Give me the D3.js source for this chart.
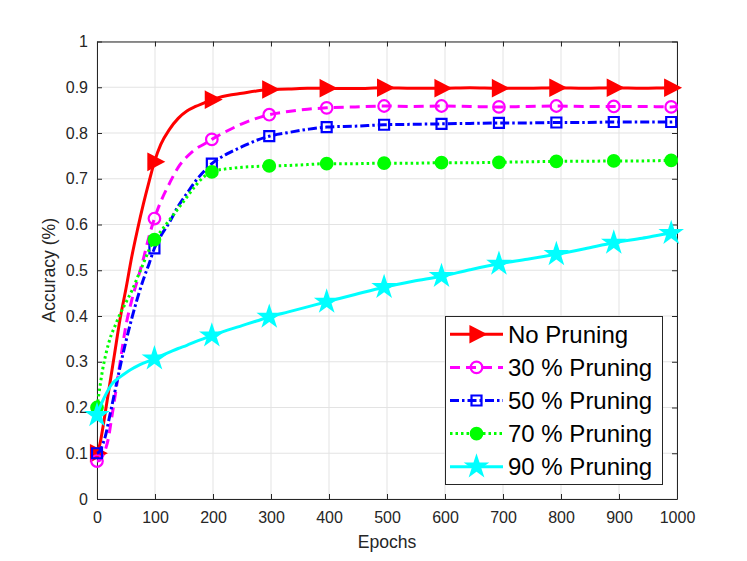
<!DOCTYPE html>
<html>
<head>
<meta charset="utf-8">
<script src="https://cdn.jsdelivr.net/npm/d3@7"></script>
<style>
  body { margin: 0; background: #fff; }
  svg { font-family: "Liberation Sans", Arial, Helvetica, sans-serif; }
</style>
</head>
<body>
<div id="chart"></div>
<script>
'use strict';

const epochs = [0, 5, 10, 15, 20, 25, 30, 40, 50, 60, 70, 80, 90, 99, 110, 125, 140, 155, 170, 185,
    198, 225, 250, 275, 297, 330, 363, 396, 445, 495, 545, 594, 643, 693, 742, 792, 841, 891, 940, 990, 1000];

const noPruning = [0.100, 0.120, 0.155, 0.195, 0.235, 0.275, 0.315, 0.395, 0.460, 0.530, 0.590, 0.645, 0.695, 0.737,
    0.775, 0.808, 0.832, 0.848, 0.858, 0.866, 0.873, 0.882, 0.887, 0.892, 0.895, 0.896, 0.898, 0.898, 0.897,
    0.899, 0.898, 0.898, 0.899, 0.898, 0.898, 0.899, 0.898, 0.899, 0.898, 0.899, 0.899];

const pruning30 = [0.083, 0.085, 0.095, 0.110, 0.135, 0.175, 0.215, 0.300, 0.380, 0.435, 0.480, 0.525, 0.575, 0.613,
    0.650, 0.690, 0.725, 0.748, 0.765, 0.776, 0.786, 0.805, 0.820, 0.832, 0.840, 0.847, 0.852, 0.855, 0.857,
    0.859, 0.858, 0.859, 0.858, 0.857, 0.858, 0.859, 0.858, 0.858, 0.858, 0.857, 0.858];

const pruning50 = [0.100, 0.105, 0.120, 0.140, 0.170, 0.200, 0.230, 0.290, 0.345, 0.395, 0.440, 0.480, 0.515, 0.548,
    0.575, 0.605, 0.640, 0.668, 0.695, 0.717, 0.733, 0.755, 0.770, 0.784, 0.793, 0.801, 0.808, 0.813, 0.815,
    0.818, 0.819, 0.820, 0.821, 0.822, 0.822, 0.823, 0.823, 0.824, 0.824, 0.824, 0.825];

const pruning70 = [0.200, 0.245, 0.285, 0.315, 0.340, 0.360, 0.375, 0.405, 0.430, 0.455, 0.485, 0.515, 0.545, 0.567,
    0.585, 0.610, 0.635, 0.660, 0.685, 0.705, 0.715, 0.722, 0.725, 0.727, 0.728, 0.729, 0.731, 0.733, 0.733,
    0.734, 0.734, 0.735, 0.735, 0.736, 0.737, 0.738, 0.738, 0.739, 0.739, 0.740, 0.740];

const pruning90 = [0.183, 0.200, 0.215, 0.228, 0.240, 0.250, 0.257, 0.267, 0.276, 0.284, 0.291, 0.297, 0.302, 0.307,
    0.313, 0.321, 0.329, 0.336, 0.344, 0.351, 0.357, 0.369, 0.379, 0.389, 0.398, 0.409, 0.420, 0.431, 0.447,
    0.463, 0.476, 0.487, 0.501, 0.514, 0.524, 0.535, 0.547, 0.560, 0.570, 0.581, 0.582];

const markerEpochs = [0, 99, 198, 297, 396, 495, 594, 693, 792, 891, 990];
const seriesNames = ['No Pruning', '30 % Pruning', '50 % Pruning', '70 % Pruning', '90 % Pruning'];
const xTicks = [0, 100, 200, 300, 400, 500, 600, 700, 800, 900, 1000];
const yTicks = [0, 0.1, 0.2, 0.3, 0.4, 0.5, 0.6, 0.7, 0.8, 0.9, 1];

(function() {

    let width = 747,
        height = 561,
        margin = { top: 41.5, right: 70, bottom: 62, left: 97 };

    let svg = d3.select('#chart')
        .append('svg')
        .attr('width', width)
        .attr('height', height);

    let x = d3.scaleLinear().domain([0, 1000]).range([margin.left, width - margin.right]);
    let y = d3.scaleLinear().domain([0, 1]).range([height - margin.bottom, margin.top]);

    // grid
    let grid = svg.append('g').attr('stroke', '#e3e3e3').attr('stroke-width', 1);
    grid.selectAll('.gx').data(xTicks).enter().append('line')
        .attr('x1', d => x(d)).attr('x2', d => x(d))
        .attr('y1', y(0)).attr('y2', y(1));
    grid.selectAll('.gy').data(yTicks).enter().append('line')
        .attr('x1', x(0)).attr('x2', x(1000))
        .attr('y1', d => y(d)).attr('y2', d => y(d));

    // axes, ticks pointing inward on all four sides
    const axisColor = '#262626';
    let styleAxis = function(g) {
        g.select('.domain').attr('stroke', axisColor).attr('stroke-width', 1);
        g.selectAll('.tick line').attr('stroke', axisColor);
        g.selectAll('.tick text').attr('fill', axisColor).style('font-size', '16px');
    };

    svg.append('g')
        .attr('transform', 'translate(0,' + y(0) + ')')
        .call(d3.axisBottom(x).tickValues(xTicks).tickSizeInner(-5).tickSizeOuter(0).tickPadding(13).tickFormat(d3.format('d')))
        .call(styleAxis);
    svg.append('g')
        .attr('transform', 'translate(0,' + y(1) + ')')
        .call(d3.axisTop(x).tickValues(xTicks).tickSizeInner(-5).tickSizeOuter(0).tickFormat(''))
        .call(styleAxis);
    svg.append('g')
        .attr('transform', 'translate(' + x(0) + ',0)')
        .call(d3.axisLeft(y).tickValues(yTicks).tickSizeInner(-5).tickSizeOuter(0).tickPadding(9).tickFormat(d3.format('~g')))
        .call(styleAxis);
    svg.append('g')
        .attr('transform', 'translate(' + x(1000) + ',0)')
        .call(d3.axisRight(y).tickValues(yTicks).tickSizeInner(-5).tickSizeOuter(0).tickFormat(''))
        .call(styleAxis);

    svg.append('text')
        .attr('x', (x(0) + x(1000)) / 2)
        .attr('y', 548)
        .attr('text-anchor', 'middle')
        .attr('fill', axisColor)
        .style('font-size', '17.6px')
        .text('Epochs');

    svg.append('text')
        .attr('transform', 'translate(55,' + (y(0) + y(1)) / 2 + ') rotate(-90)')
        .attr('text-anchor', 'middle')
        .attr('fill', axisColor)
        .style('font-size', '17.6px')
        .text('Accuracy (%)');

    // marker shapes
    let triangleRight = 'M-6,-7.5L8.5,0L-6,7.5Z';
    let square = d3.symbol(d3.symbolSquare, 100)();
    let star = d3.symbol(d3.symbolStar, 110)();
    let circle = d3.symbol(d3.symbolCircle, 105)();

    let series = [
        { name: seriesNames[0], values: noPruning, color: '#ff0000', dash: null, marker: triangleRight, fill: true },
        { name: seriesNames[1], values: pruning30, color: '#ff00ff', dash: '10,6', marker: circle, fill: false },
        { name: seriesNames[2], values: pruning50, color: '#0000ff', dash: '9,3,2.5,3', marker: square, fill: false },
        { name: seriesNames[3], values: pruning70, color: '#00ff00', dash: '2.5,3', marker: circle, fill: true },
        { name: seriesNames[4], values: pruning90, color: '#00ffff', dash: null, marker: star, fill: true }
    ];

    let line = d3.line()
        .x((d, i) => x(epochs[i]))
        .y(d => y(d))
        .curve(d3.curveMonotoneX);

    series.forEach(function(s) {
        let g = svg.append('g');
        g.append('path')
            .attr('d', line(s.values))
            .attr('fill', 'none')
            .attr('stroke', s.color)
            .attr('stroke-width', 3)
            .attr('stroke-dasharray', s.dash);

        g.selectAll('.marker')
            .data(markerEpochs)
            .enter().append('path')
            .attr('d', s.marker)
            .attr('transform', e => 'translate(' + x(e) + ',' + y(s.values[epochs.indexOf(e)]) + ')')
            .attr('fill', s.fill ? s.color : 'none')
            .attr('stroke', s.color)
            .attr('stroke-width', 2.2);
    });

    // legend
    let legend = svg.append('g');
    legend.append('rect')
        .attr('x', 445.5).attr('y', 316.5)
        .attr('width', 217).attr('height', 168)
        .attr('fill', '#fff')
        .attr('stroke', axisColor)
        .attr('stroke-width', 1);

    let rows = legend.selectAll('.row')
        .data(series)
        .enter().append('g')
        .attr('transform', (d, i) => 'translate(0,' + (334.3 + i * 33.1) + ')');

    rows.append('line')
        .attr('x1', 450).attr('x2', 503)
        .attr('stroke', d => d.color)
        .attr('stroke-width', 3)
        .attr('stroke-dasharray', d => d.dash);
    rows.append('path')
        .attr('d', d => d.marker)
        .attr('transform', 'translate(476.5,0)')
        .attr('fill', d => d.fill ? d.color : 'none')
        .attr('stroke', d => d.color)
        .attr('stroke-width', 2.2);
    rows.append('text')
        .attr('x', 508)
        .attr('dy', '0.35em')
        .style('font-size', '24px')
        .attr('fill', '#000')
        .text(d => d.name);

})();
</script>
</body>
</html>
